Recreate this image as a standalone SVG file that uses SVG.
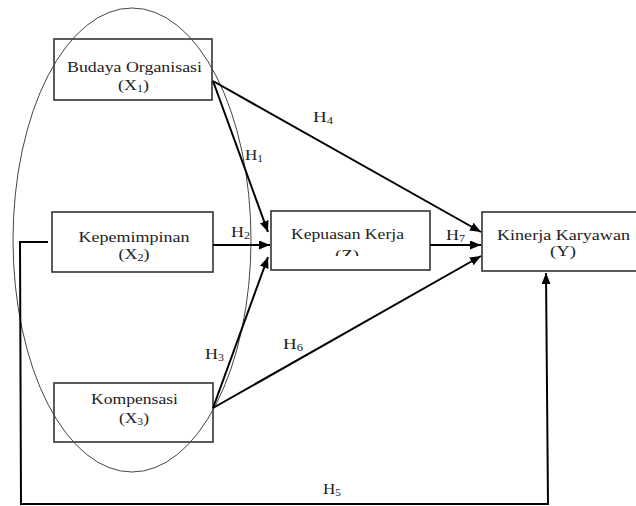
<svg xmlns="http://www.w3.org/2000/svg" width="636" height="506" viewBox="0 0 636 506">
<style>
  .box { fill: #ffffff; stroke: #333333; stroke-width: 1.6; }
  .t { font-family: "Liberation Serif", "Times New Roman", serif; font-size: 15px; fill: #222222; text-anchor: middle; }
  .h { font-family: "Liberation Serif", "Times New Roman", serif; font-size: 15px; fill: #222222; }
  .c { fill: none; stroke: #000000; stroke-width: 2; }
  .ell { fill: none; stroke: #444444; stroke-width: 1; }
</style>
<defs>
  <marker id="arr" markerUnits="userSpaceOnUse" markerWidth="12" markerHeight="10" refX="11" refY="4.5" orient="auto">
    <path d="M0,0 L11,4.5 L0,9 Z" fill="#000000"/>
  </marker>
  <clipPath id="zclip"><rect x="271" y="211" width="159" height="45"/></clipPath>
</defs>
<rect width="636" height="506" fill="#ffffff"/>

<g id="nodes">
  <g id="x1">
    <rect class="box" x="54" y="39" width="158" height="61"/>
    <text class="t" x="134.5" y="72" textLength="135" lengthAdjust="spacingAndGlyphs">Budaya Organisasi</text>
    <text class="t" x="133.5" y="90" textLength="31" lengthAdjust="spacingAndGlyphs">(X<tspan font-size="10" dy="1.5">1</tspan><tspan dy="-1.5">)</tspan></text>
  </g>
  <g id="x2">
    <rect class="box" x="52" y="212" width="161" height="60"/>
    <text class="t" x="134" y="242" textLength="111" lengthAdjust="spacingAndGlyphs">Kepemimpinan</text>
    <text class="t" x="134" y="259" textLength="31" lengthAdjust="spacingAndGlyphs">(X<tspan font-size="10" dy="1.5">2</tspan><tspan dy="-1.5">)</tspan></text>
  </g>
  <g id="x3">
    <rect class="box" x="54" y="383" width="159" height="59"/>
    <text class="t" x="134.5" y="404" textLength="87" lengthAdjust="spacingAndGlyphs">Kompensasi</text>
    <text class="t" x="134" y="423" textLength="30" lengthAdjust="spacingAndGlyphs">(X<tspan font-size="10" dy="1.5">3</tspan><tspan dy="-1.5">)</tspan></text>
  </g>
  <g id="z">
    <rect class="box" x="271" y="211" width="159" height="59"/>
    <text class="t" x="347.5" y="239" textLength="113" lengthAdjust="spacingAndGlyphs">Kepuasan Kerja</text>
    <text class="t" x="347" y="260" textLength="24" lengthAdjust="spacingAndGlyphs" clip-path="url(#zclip)">(Z)</text>
  </g>
  <g id="y">
    <rect class="box" x="482" y="212" width="160" height="59"/>
    <text class="t" x="563.5" y="240" textLength="133" lengthAdjust="spacingAndGlyphs">Kinerja Karyawan</text>
    <text class="t" x="563" y="256" textLength="26" lengthAdjust="spacingAndGlyphs">(Y)</text>
  </g>
</g>

<g id="group-ellipse">
  <ellipse class="ell" cx="132" cy="240" rx="119" ry="232"/>
</g>

<g id="connectors">
  <line class="c" x1="213" y1="81" x2="268" y2="232" marker-end="url(#arr)"/>
  <line class="c" x1="213" y1="81" x2="481" y2="232" marker-end="url(#arr)"/>
  <line class="c" x1="213" y1="245" x2="270" y2="245" marker-end="url(#arr)"/>
  <line class="c" x1="213" y1="408" x2="268" y2="257" marker-end="url(#arr)"/>
  <line class="c" x1="213" y1="408" x2="481" y2="256" marker-end="url(#arr)"/>
  <line class="c" x1="430" y1="245" x2="481" y2="245" marker-end="url(#arr)"/>
  <polyline class="c" points="48,242 20,242 21,504 548,504 546,273" marker-end="url(#arr)"/>
</g>

<g id="labels">
  <text class="h" x="245" y="160" textLength="18" lengthAdjust="spacingAndGlyphs">H<tspan font-size="10" dy="1.5">1</tspan></text>
  <text class="h" x="231" y="237" textLength="19" lengthAdjust="spacingAndGlyphs">H<tspan font-size="10" dy="1.5">2</tspan></text>
  <text class="h" x="205" y="359" textLength="19" lengthAdjust="spacingAndGlyphs">H<tspan font-size="10" dy="1.5">3</tspan></text>
  <text class="h" x="313" y="122" textLength="20" lengthAdjust="spacingAndGlyphs">H<tspan font-size="10" dy="1.5">4</tspan></text>
  <text class="h" x="323" y="494" textLength="18" lengthAdjust="spacingAndGlyphs">H<tspan font-size="10" dy="1.5">5</tspan></text>
  <text class="h" x="283" y="349" textLength="20" lengthAdjust="spacingAndGlyphs">H<tspan font-size="10" dy="1.5">6</tspan></text>
  <text class="h" x="446" y="240" textLength="19" lengthAdjust="spacingAndGlyphs">H<tspan font-size="10" dy="1.5">7</tspan></text>
</g>
</svg>
